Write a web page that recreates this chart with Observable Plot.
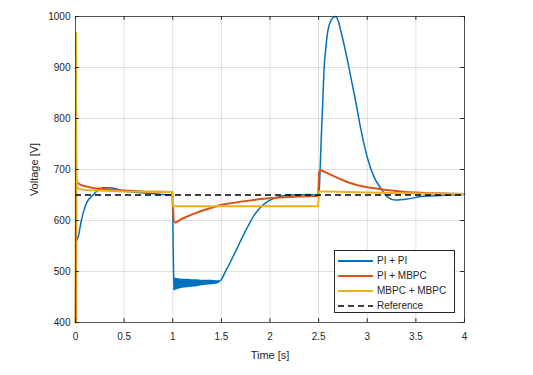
<!DOCTYPE html>
<html><head><meta charset="utf-8">
<script src="https://cdn.jsdelivr.net/npm/d3@7"></script>
<script src="https://cdn.jsdelivr.net/npm/@observablehq/plot@0.6"></script>
<style>
body{margin:0;background:#fff;font-family:"Liberation Sans",Arial,sans-serif}
#wrap{position:relative;width:533px;height:375px}
#legend{position:absolute;left:334px;top:250px;width:119px;height:61px;border:1px solid #262626;background:#fff;font-size:10px;color:#262626}
.row{position:absolute;left:0;height:15px;display:flex;align-items:center}
.row svg{margin-left:3px;margin-right:4px}
</style></head><body><div id="wrap"></div>
<script>
const xTicks = [0, 0.5, 1, 1.5, 2, 2.5, 3, 3.5, 4];
const yTicks = [400, 500, 600, 700, 800, 900, 1000];
const seriesNames = ["PI + PI", "PI + MBPC", "MBPC + MBPC", "Reference"];
const seriesColors = ["#0072BD", "#D95319", "#EDB120", "#000000"];

const tPIPI = [0, 0.003, 0.01, 0.028, 0.06, 0.11, 0.18, 0.28, 0.35, 0.5, 0.7, 0.9, 0.995, 1.01, 1.02, 1.1, 1.3, 1.48, 1.55, 1.65, 1.75, 1.85, 1.95, 2.05, 2.2, 2.4, 2.5, 2.508, 2.515, 2.522, 2.53, 2.54, 2.557, 2.575, 2.59, 2.61, 2.626, 2.65, 2.677, 2.70, 2.728, 2.76, 2.797, 2.83, 2.865, 2.9, 2.933, 3.0, 3.07, 3.14, 3.21, 3.29, 3.41, 3.55, 3.75, 4.0];
const vPIPI = [400, 555, 560, 568, 600, 633, 650, 664, 664, 658, 654, 651, 650, 490, 476, 477, 478, 481, 503, 541, 580, 614, 634, 644, 650, 651, 649, 665, 698, 735, 776, 820, 900, 940, 966, 984, 992, 998, 1000, 992, 972, 946, 914, 882, 849, 814, 780, 724, 685, 663, 646, 640, 642, 647, 649, 651];

const tNoise = [1.01, 1.03, 1.06, 1.1, 1.15, 1.2, 1.25, 1.3, 1.35, 1.4, 1.45, 1.48];
const vNoiseLo = [462, 463, 465, 467, 468, 469, 470, 472, 473, 474, 475, 477];
const vNoiseHi = [488, 487, 486, 485, 485, 484, 484, 483, 483, 483, 482, 482];

const tPIMBPC = [0, 0.004, 0.008, 0.05, 0.1, 0.2, 0.4, 0.7, 0.995, 1.01, 1.03, 1.1, 1.2, 1.3, 1.4, 1.5, 1.7, 1.9, 2.1, 2.3, 2.495, 2.505, 2.52, 2.6, 2.7, 2.8, 2.9, 3.0, 3.2, 3.4, 3.6, 3.8, 4.0];
const vPIMBPC = [400, 400, 676, 670, 667, 663, 660, 657, 656, 598, 596, 604, 612, 619, 625, 631, 637, 642, 645, 647, 648, 695, 699, 692, 683, 675, 669, 665, 660, 656, 654, 653, 652];

const tMBPC = [0, 0.006, 0.01, 0.015, 0.03, 0.1, 0.5, 0.995, 1.005, 1.5, 2.0, 2.495, 2.505, 2.6, 3.0, 3.5, 4.0];
const vMBPC = [400, 968, 720, 668, 662, 660, 657, 656, 628, 628, 628, 628, 657, 657, 655, 653, 652];

const refValue = 650;

const zipS = (t, v) => t.map((d, i) => ({t: d, v: v[i]}));
const blue = zipS(tPIPI, vPIPI);
const orange = zipS(tPIMBPC, vPIMBPC);
const yellow = zipS(tMBPC, vMBPC);
const band = tNoise.map((d, i) => ({t: d, lo: vNoiseLo[i], hi: vNoiseHi[i]}));

const plot = Plot.plot({
  width: 533, height: 375,
  marginLeft: 75, marginRight: 69, marginTop: 16, marginBottom: 53,
  x: {domain: [0, 4], ticks: xTicks},
  y: {domain: [400, 1000], ticks: yTicks},
  style: {fontFamily: '"Liberation Sans", Arial, sans-serif', fontSize: "10px", color: "#262626", background: "white"},
  marks: [
    Plot.gridX({ticks: xTicks, stroke: "#000", strokeOpacity: 0.12}),
    Plot.gridY({ticks: yTicks, stroke: "#000", strokeOpacity: 0.12}),
    Plot.areaY(band, {x: "t", y1: "lo", y2: "hi", fill: seriesColors[0]}),
    Plot.line(blue, {x: "t", y: "v", stroke: seriesColors[0], strokeWidth: 1.5, curve: "monotone-x"}),
    Plot.line(orange, {x: "t", y: "v", stroke: seriesColors[1], strokeWidth: 2}),
    Plot.line(yellow, {x: "t", y: "v", stroke: seriesColors[2], strokeWidth: 2}),
    Plot.ruleY([refValue], {x1: 0, x2: 4, stroke: seriesColors[3], strokeWidth: 1.5, strokeDasharray: "6,4"}),
    Plot.ruleX(xTicks, {y1: 400, y2: 407.5, stroke: "#262626"}),
    Plot.ruleX(xTicks, {y1: 1000, y2: 992.5, stroke: "#262626"}),
    Plot.ruleY(yTicks, {x1: 0, x2: 0.04, stroke: "#262626"}),
    Plot.ruleY(yTicks, {x1: 4, x2: 3.96, stroke: "#262626"}),
    Plot.frame({stroke: "#262626", strokeOpacity: 0.75}),
    Plot.axisX({ticks: xTicks, tickFormat: d => String(d), tickSize: 0, tickPadding: 10, label: "Time [s]", labelAnchor: "center", labelArrow: "none", labelOffset: 36}),
    Plot.axisY({ticks: yTicks, tickFormat: d => String(d), tickSize: 0, tickPadding: 5, label: "Voltage [V]", labelAnchor: "center", labelArrow: "none", labelOffset: 45})
  ]
});
const wrap = document.getElementById("wrap");
wrap.appendChild(plot);
plot.querySelectorAll('g[aria-label="x-axis label"] text, g[aria-label="y-axis label"] text').forEach(t => t.style.fontSize = "11px");

const legend = document.createElement("div");
legend.id = "legend";
seriesNames.forEach((name, i) => {
  const row = document.createElement("div");
  row.className = "row";
  row.style.top = (2 + i * 15) + "px";
  const dash = i === 3 ? 'stroke-dasharray="6,4"' : "";
  row.innerHTML = `<svg width="35" height="6"><line x1="0" x2="35" y1="3" y2="3" stroke="${seriesColors[i]}" stroke-width="${i === 3 ? 1.5 : 2}" ${dash}/></svg><span>${name}</span>`;
  legend.appendChild(row);
});
wrap.appendChild(legend);
</script></body></html>
